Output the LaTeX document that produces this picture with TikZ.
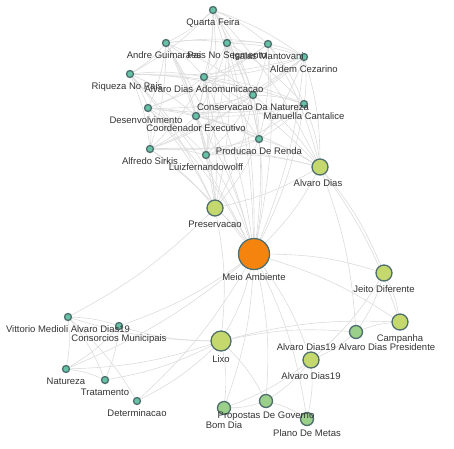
\documentclass[tikz,border=0pt]{standalone}
\usepackage{fontspec}
\setmainfont{Liberation Sans}
\usetikzlibrary{positioning,backgrounds}

\definecolor{rim}{HTML}{4E6E6E}
\definecolor{teal}{HTML}{66C2A5}
\definecolor{lime}{HTML}{C5D86D}
\definecolor{leaf}{HTML}{9BD08A}
\definecolor{hub}{HTML}{F5840F}
\definecolor{wire}{HTML}{DCDCDC}
\definecolor{ink}{HTML}{333333}

\begin{document}
\begin{tikzpicture}[x=1pt,y=-1pt]
  \tikzset{
    dot/.style={circle,draw=rim,line width=1.3pt,inner sep=0pt},
    tnode/.style={dot,fill=teal,minimum size=7pt},
    gnode/.style={dot,fill=leaf,minimum size=13pt},
    lnode/.style={dot,fill=lime,minimum size=16pt},
    lbl/.style={text=ink,inner sep=0.5pt,font=\fontsize{9.5}{10}\selectfont},
    edge/.style={draw=wire,line width=0.6pt}
  }
  \useasboundingbox (0,0) rectangle (454,448);

  % upper cluster
  \node[tnode] (qf)  at (213,10)  {};
  \node[tnode] (ag)  at (166,43)  {};
  \node[tnode] (pns) at (227,43)  {};
  \node[tnode] (im)  at (268,44)  {};
  \node[tnode] (ac)  at (304,57)  {};
  \node[tnode] (rnp) at (130,74)  {};
  \node[tnode] (ada) at (204,77)  {};
  \node[tnode] (cdn) at (253,95)  {};
  \node[tnode] (mc)  at (304,104) {};
  \node[tnode] (des) at (148,108) {};
  \node[tnode] (ce)  at (196,116) {};
  \node[tnode] (pdr) at (259,139) {};
  \node[tnode] (as)  at (150,149) {};
  \node[tnode] (lfw) at (206,155) {};

  % hubs
  \node[lnode] (ad)   at (320,167) {};
  \node[lnode] (pres) at (215,208) {};
  \node[dot,fill=hub,minimum size=31pt] (ma) at (254,254) {};
  \node[dot,fill=lime,minimum size=20pt] (lixo) at (221,341) {};

  % lower right
  \node[lnode] (jd)   at (384,273) {};
  \node[lnode] (camp) at (400,322) {};
  \node[gnode] (adp)  at (356,332) {};
  \node[lnode] (ad19) at (311,360) {};
  \node[gnode] (bd)   at (224,408) {};
  \node[gnode] (pdg)  at (266,401) {};
  \node[gnode] (pdm)  at (307,419) {};

  % lower left
  \node[tnode] (vm)  at (68,317)  {};
  \node[tnode] (cm)  at (119,326) {};
  \node[tnode] (nat) at (66,369)  {};
  \node[tnode] (tra) at (105,380) {};
  \node[tnode] (det) at (137,401) {};

  \begin{scope}[on background layer]
    \foreach \s/\tl in {
        qf/{ag,pns,im,ac,rnp,ada,cdn,ce,pdr,lfw,ma,ad},
        ag/{pns,im,rnp,ada,cdn,des,ce,as,lfw,ma,pres},
        pns/{im,ac,ada,cdn,mc,ce,pdr,lfw,ma,pres},
        im/{ac,ada,cdn,mc,des,pdr,ma,ad},
        ac/{rnp,ada,cdn,mc,ce,pdr,as,ma,ad},
        rnp/{ada,cdn,mc,des,ce,as,ma,pres},
        ada/{cdn,mc,des,ce,pdr,as,lfw,ma,pres,ad},
        cdn/{mc,des,ce,pdr,as,lfw,ma,pres,ad},
        mc/{des,ce,pdr,lfw,ma,ad},
        des/{ce,pdr,as,lfw,ma,pres},
        ce/{pdr,as,lfw,ma,pres,ad},
        pdr/{as,lfw,ma,pres,ad},
        as/{lfw,ma,pres,ad},
        lfw/{ma,pres,ad},
        ad/{ma,pres,jd,camp,adp},
        pres/{ma,lixo,vm},
        ma/{jd,camp,lixo,ad19,bd,pdg,pdm,cm,det,nat},
        lixo/{adp,camp,bd,pdg,vm,nat,tra,det,cm},
        jd/{adp,camp,ad19},
        adp/{camp,ad19},
        ad19/{pdm,bd,pdg},
        pdg/{bd,pdm},
        vm/{cm,nat,tra,det},
        cm/{tra,nat},
        nat/{tra}} {
      \foreach \t in \tl {
        \draw[edge] (\s) to[bend left=8] (\t);
      }
    }
  \end{scope}

  % labels
  \node[lbl,below=4pt of qf]  (qf-t)  {Quarta Feira};
  \node[lbl,below=4pt of ag,xshift=-2pt] (ag-t) {Andre Guimaraes};
  \node[lbl,below=4pt of pns] (pns-t) {Pais No Segmento};
  \node[lbl,below=4pt of im]  (im-t)  {Isaias Mantovani};
  \node[lbl,below=4pt of ac]  (ac-t)  {Aldem Cezarino};
  \node[lbl,below=4pt of rnp,xshift=-3pt] (rnp-t) {Riqueza No Pais};
  \node[lbl,below=4pt of ada] (ada-t) {Alvaro Dias Adcomunicacao};
  \node[lbl,below=4pt of cdn] (cdn-t) {Conservacao Da Natureza};
  \node[lbl,below=4pt of mc]  (mc-t)  {Manuella Cantalice};
  \node[lbl,below=4pt of des,xshift=-2pt] (des-t) {Desenvolvimento};
  \node[lbl,below=4pt of ce]  (ce-t)  {Coordenador Executivo};
  \node[lbl,below=4pt of pdr] (pdr-t) {Producao De Renda};
  \node[lbl,below=4pt of as]  (as-t)  {Alfredo Sirkis};
  \node[lbl,below=4pt of lfw] (lfw-t) {Luizfernandowolff};
  \node[lbl,below=3.5pt of ad,xshift=-2pt] (ad-t) {Alvaro Dias};
  \node[lbl,below=3.5pt of pres]  (pres-t) {Preservacao};
  \node[lbl,below=2.5pt of ma]    (ma-t)   {Meio Ambiente};
  \node[lbl,below=3.5pt of lixo]  (lixo-t) {Lixo};
  \node[lbl,below=3.5pt of jd]    (jd-t)   {Jeito Diferente};
  \node[lbl,below=3.5pt of camp]  (camp-t) {Campanha};
  \node[lbl,below=3.5pt of adp]   (adp-t)  {Alvaro Dias19 Alvaro Dias Presidente};
  \node[lbl,below=3.5pt of ad19]  (ad19-t) {Alvaro Dias19};
  \node[lbl,below=5.5pt of bd]    (bd-t)   {Bom Dia};
  \node[lbl,below=3pt of pdg]     (pdg-t)  {Propostas De Governo};
  \node[lbl,below=3pt of pdm]     (pdm-t)  {Plano De Metas};
  \node[lbl,below=4pt of vm]  (vm-t)   {Vittorio Medioli Alvaro Dias19};
  \node[lbl,below=4pt of cm]  (cm-t)   {Consorcios Municipais};
  \node[lbl,below=4pt of nat] (nat-t)  {Natureza};
  \node[lbl,below=4pt of tra] (tra-t)  {Tratamento};
  \node[lbl,below=4pt of det] (det-t)  {Determinacao};
\end{tikzpicture}
\end{document}
